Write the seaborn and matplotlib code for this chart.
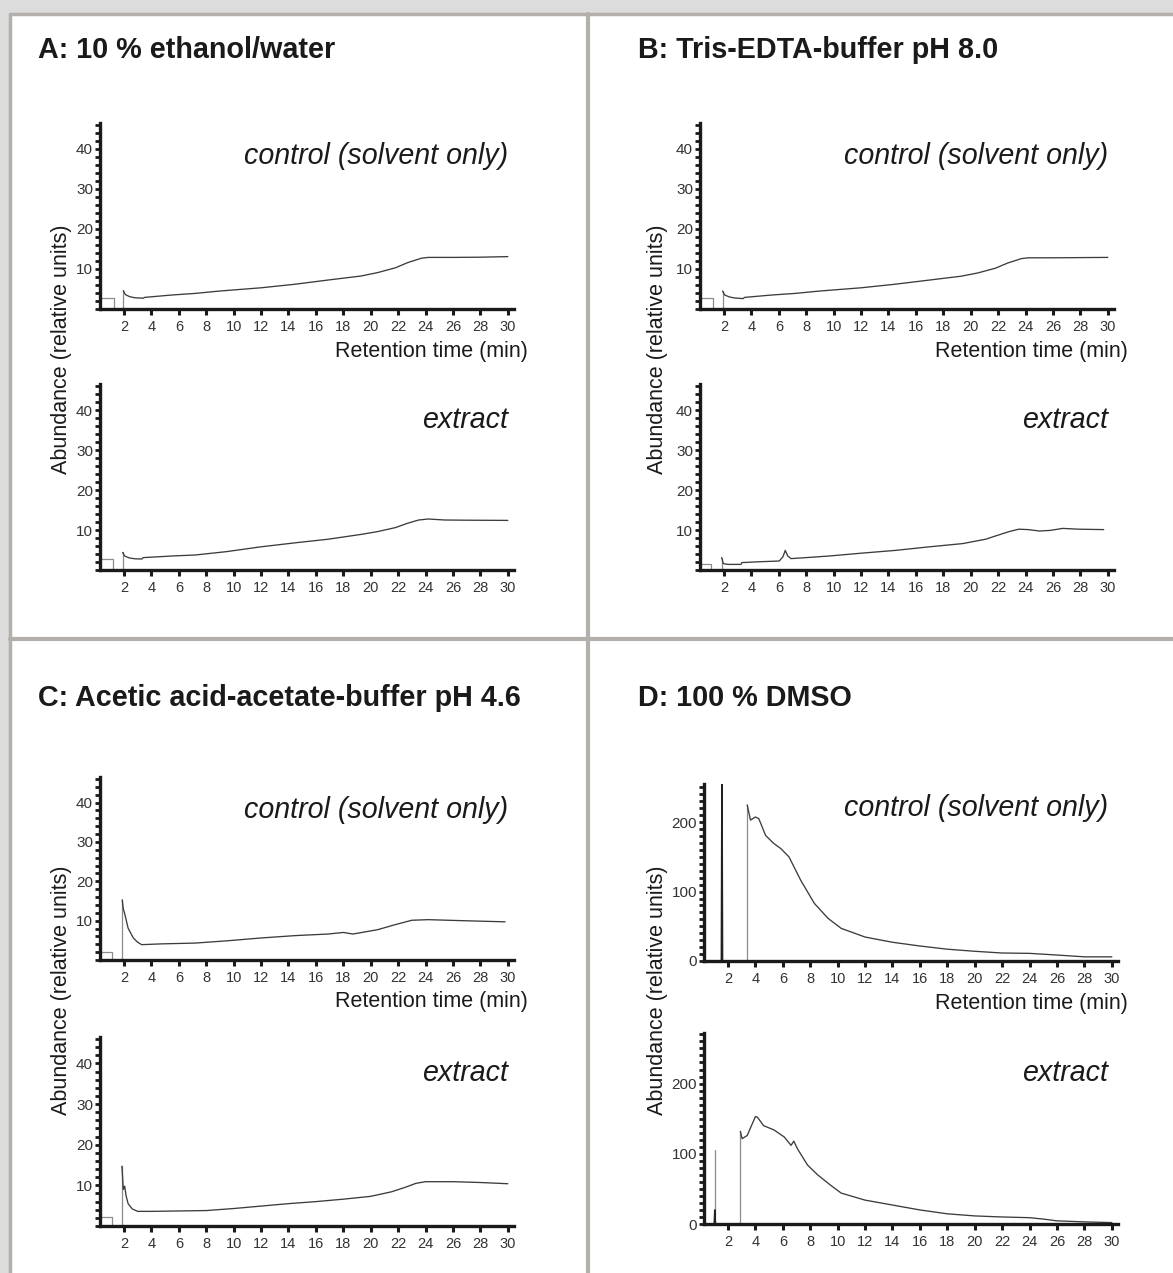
import numpy as np
import pandas as pd
import matplotlib
matplotlib.use("Agg")
import matplotlib.pyplot as plt
import seaborn as sns
from matplotlib.patches import Rectangle
from matplotlib.lines import Line2D
from matplotlib.ticker import MultipleLocator

sns.set_style("ticks")
plt.rcParams['font.family'] = ['Liberation Sans', 'DejaVu Sans']

# ---- data (time in min, abundance) ----
# injection box + spike drawn in light grey, main trace in dark grey
a_ctrl_pre_t = [0.25, 1.27, 1.27, None, 1.95, 1.95]
a_ctrl_pre_y = [2.7, 2.7, 0.0, None, 0.0, 4.6]
a_ctrl_t = [1.95, 2.1, 2.4, 2.8, 3.4, 3.5, 4.5, 5.5, 7.2, 9.0, 12.0, 14.5, 16.9, 19.3, 20.5, 21.8, 22.7, 23.7, 24.2, 26.0, 28.0, 30.0]
a_ctrl_y = [4.6, 3.6, 3.1, 2.8, 2.7, 2.9, 3.2, 3.5, 3.9, 4.5, 5.3, 6.2, 7.25, 8.25, 9.1, 10.3, 11.6, 12.7, 12.9, 12.9, 12.95, 13.1]

a_ext_pre_t = [0.25, 1.17, 1.17, None, 1.9, 1.9]
a_ext_pre_y = [2.7, 2.7, 0.0, None, 0.0, 4.4]
a_ext_t = [1.9, 2.05, 2.4, 2.8, 3.3, 3.4, 4.5, 5.5, 7.2, 9.5, 12.0, 14.5, 16.9, 19.3, 20.5, 21.8, 22.7, 23.5, 24.2, 25.4, 27.0, 30.0]
a_ext_y = [4.4, 3.5, 3.0, 2.8, 2.75, 3.1, 3.3, 3.5, 3.75, 4.6, 5.8, 6.8, 7.7, 8.9, 9.6, 10.6, 11.7, 12.5, 12.75, 12.5, 12.45, 12.4]

b_ctrl_pre_t = [0.25, 1.2, 1.2, None, 1.9, 1.9]
b_ctrl_pre_y = [2.7, 2.7, 0.0, None, 0.0, 4.5]
b_ctrl_t = [1.9, 2.05, 2.4, 2.8, 3.4, 3.5, 4.5, 5.5, 7.2, 9.0, 12.0, 14.5, 16.9, 19.3, 20.5, 21.8, 22.7, 23.7, 24.2, 26.0, 28.0, 30.0]
b_ctrl_y = [4.5, 3.5, 3.0, 2.75, 2.6, 2.9, 3.2, 3.5, 3.9, 4.5, 5.3, 6.2, 7.2, 8.2, 9.0, 10.2, 11.5, 12.6, 12.8, 12.8, 12.85, 12.9]

b_ext_pre_t = [0.25, 1.05, 1.05, None, 1.83, 1.83]
b_ext_pre_y = [1.4, 1.4, 0.0, None, 0.0, 3.1]
b_ext_t = [1.83, 1.95, 2.3, 3.24, 3.3, 4.5, 6.03, 6.3, 6.47, 6.65, 6.89, 8.0, 9.68, 12.0, 14.5, 17.0, 19.4, 21.1, 21.8, 22.8, 23.5, 24.2, 25.0, 25.8, 26.7, 27.9, 29.7]
b_ext_y = [3.1, 1.6, 1.4, 1.4, 1.85, 2.05, 2.25, 3.3, 4.9, 3.5, 2.85, 3.1, 3.5, 4.2, 4.9, 5.8, 6.6, 7.7, 8.5, 9.6, 10.2, 10.1, 9.75, 9.9, 10.4, 10.2, 10.1]

c_ctrl_pre_t = [0.25, 1.15, 1.15, None, 1.87, 1.87]
c_ctrl_pre_y = [2.0, 2.0, 0.0, None, 0.0, 15.3]
c_ctrl_t = [1.87, 1.95, 2.07, 2.3, 2.68, 3.0, 3.29, 4.75, 7.2, 9.6, 12.0, 14.5, 16.9, 18.0, 18.7, 20.5, 21.8, 23.0, 24.2, 26.6, 29.8]
c_ctrl_y = [15.3, 13.0, 11.5, 8.1, 5.6, 4.5, 3.9, 4.1, 4.3, 4.9, 5.6, 6.2, 6.6, 7.0, 6.6, 7.7, 9.0, 10.1, 10.25, 10.0, 9.7]

c_ext_pre_t = [0.25, 1.1, 1.1, None, 1.85, 1.85]
c_ext_pre_y = [2.3, 2.3, 0.0, None, 0.0, 14.7]
c_ext_t = [1.85, 1.95, 2.05, 2.15, 2.3, 2.6, 3.0, 4.0, 6.0, 8.0, 10.0, 12.0, 14.0, 16.0, 18.0, 20.0, 21.5, 22.5, 23.3, 24.0, 26.0, 28.0, 30.0]
c_ext_y = [14.7, 9.0, 9.8, 7.5, 5.5, 4.2, 3.6, 3.6, 3.7, 3.8, 4.3, 4.9, 5.5, 6.0, 6.6, 7.3, 8.4, 9.5, 10.5, 10.9, 10.9, 10.7, 10.4]

d_ctrl_pre_t = [3.4, 3.4]
d_ctrl_pre_y = [0.0, 225.0]
d_ctrl_spike_t = [1.52, 1.56, 1.56, 1.6]
d_ctrl_spike_y = [0.0, 260.0, 260.0, 0.0]
d_ctrl_t = [3.4, 3.64, 4.0, 4.25, 4.74, 5.3, 5.85, 6.45, 7.3, 8.3, 9.3, 10.26, 12.0, 14.0, 16.0, 18.0, 20.0, 22.0, 24.0, 26.0, 28.0, 30.0]
d_ctrl_y = [225.0, 203.0, 207.5, 205.0, 181.0, 170.0, 162.0, 150.0, 116.5, 83.0, 61.4, 47.0, 34.5, 27.0, 21.6, 17.0, 14.0, 11.5, 11.0, 8.6, 6.0, 6.0]

d_ext_pre_t = [1.04, 1.04, None, 2.9, 2.9]
d_ext_pre_y = [0.0, 105.0, None, 0.0, 132.0]
d_ext_spike_t = [1.0, 1.04, 1.08]
d_ext_spike_y = [0.0, 20.0, 0.0]
d_ext_t = [2.9, 3.03, 3.4, 4.0, 4.15, 4.6, 5.35, 6.1, 6.6, 6.8, 7.07, 7.8, 8.54, 9.5, 10.26, 12.0, 14.0, 16.0, 18.0, 20.0, 22.0, 24.0, 25.0, 26.0, 28.0, 30.0]
d_ext_y = [132.0, 121.5, 126.0, 153.0, 152.0, 140.0, 134.0, 124.0, 112.0, 118.0, 107.0, 84.0, 70.0, 55.0, 44.0, 34.0, 27.0, 20.0, 14.5, 11.5, 10.0, 9.0, 7.0, 4.5, 3.0, 2.0]

titles = ["A: 10 % ethanol/water", "B: Tris-EDTA-buffer pH 8.0",
          "C: Acetic acid-acetate-buffer pH 4.6", "D: 100 % DMSO"]
x_ticks = list(range(2, 31, 2))
small_yticks = [10, 20, 30, 40]
dmso_yticks = [0, 100, 200]

W, H = 1173, 1273
fig = plt.figure(figsize=(W / 100, H / 100), dpi=100)
fig.patch.set_facecolor("#dcdcdc")

def fx(px):
    return px / W

def fy(py):
    return 1 - py / H

# white card + grey frame and dividers
fig.add_artist(Rectangle((fx(12), 0), 1, fy(15), transform=fig.transFigure,
                         facecolor="white", edgecolor="none", zorder=-10))
grey = "#b3afab"
fig.add_artist(Line2D([fx(10), fx(10)], [0, fy(13.5)], transform=fig.transFigure, color=grey, lw=2.5))
fig.add_artist(Line2D([fx(10), 1], [fy(13.5), fy(13.5)], transform=fig.transFigure, color=grey, lw=2.5))
fig.add_artist(Line2D([fx(588), fx(588)], [0, fy(13.5)], transform=fig.transFigure, color=grey, lw=3))
fig.add_artist(Line2D([fx(10), 1], [fy(639), fy(639)], transform=fig.transFigure, color=grey, lw=3))

dark = "#3c3c3c"
light = "#8c8c8c"

def make_ax(left, top, bottom, ymax, yticks, minor):
    ax = fig.add_axes([fx(left), fy(bottom), fx(414), (bottom - top) / H])
    ax.set_facecolor("none")
    ax.set_xlim(0.25, 30.45)
    ax.set_ylim(0, ymax)
    ax.set_xticks(x_ticks)
    ax.set_yticks(yticks)
    ax.yaxis.set_minor_locator(MultipleLocator(minor))
    sns.despine(ax=ax)
    for s in ["left", "bottom"]:
        ax.spines[s].set_linewidth(2.4)
        ax.spines[s].set_color("#1a1a1a")
    ax.tick_params(axis="x", length=4, width=2.2, color="#1a1a1a", labelsize=10.5,
                   labelcolor="#333333", pad=4)
    ax.tick_params(axis="y", which="both", length=3.5, width=2.0, color="#1a1a1a",
                   labelsize=11, labelcolor="#333333", pad=1.5)
    ax.set_xlabel("")
    ax.set_ylabel("")
    return ax

def trace(ax, pre_t, pre_y, t, y, spike=None):
    # segments separated by None in the pre arrays
    seg_t, seg_y = [], []
    for tt, yy in zip(pre_t + [None], pre_y + [None]):
        if tt is None:
            if seg_t:
                sns.lineplot(x=seg_t, y=seg_y, ax=ax, color=light, lw=0.9,
                             sort=False, estimator=None)
            seg_t, seg_y = [], []
        else:
            seg_t.append(tt)
            seg_y.append(yy)
    if spike is not None:
        sns.lineplot(x=spike[0], y=spike[1], ax=ax, color="#222222", lw=1.2,
                     sort=False, estimator=None)
    sns.lineplot(x=t, y=y, ax=ax, color=dark, lw=0.95, sort=False, estimator=None)

panels = [
    # left, top-axes (top, bottom, ymax), bottom-axes (top, bottom, ymax), yticks, minor, traces
    (100, 123, 309, 46.5, 384, 570, 46.5, small_yticks, 2,
     (a_ctrl_pre_t, a_ctrl_pre_y, a_ctrl_t, a_ctrl_y, None),
     (a_ext_pre_t, a_ext_pre_y, a_ext_t, a_ext_y, None)),
    (700, 123, 309, 46.5, 384, 570, 46.5, small_yticks, 2,
     (b_ctrl_pre_t, b_ctrl_pre_y, b_ctrl_t, b_ctrl_y, None),
     (b_ext_pre_t, b_ext_pre_y, b_ext_t, b_ext_y, None)),
    (100, 777, 960, 46.5, 1037, 1226, 46.5, small_yticks, 2,
     (c_ctrl_pre_t, c_ctrl_pre_y, c_ctrl_t, c_ctrl_y, None),
     (c_ext_pre_t, c_ext_pre_y, c_ext_t, c_ext_y, None)),
    (704, 784, 961, 255, 1033, 1224, 272, dmso_yticks, 10,
     (d_ctrl_pre_t, d_ctrl_pre_y, d_ctrl_t, d_ctrl_y, (d_ctrl_spike_t, d_ctrl_spike_y)),
     (d_ext_pre_t, d_ext_pre_y, d_ext_t, d_ext_y, (d_ext_spike_t, d_ext_spike_y))),
]

title_pos = [(38, 50), (638, 50), (38, 698), (638, 698)]

for i, (left, t1, b1, ym1, t2, b2, ym2, yt, mn, tr1, tr2) in enumerate(panels):
    ax1 = make_ax(left, t1, b1, ym1, yt, mn)
    ax2 = make_ax(left, t2, b2, ym2, yt, mn)
    trace(ax1, *tr1)
    trace(ax2, *tr2)
    right_txt = 508 if left < 500 else 1108
    fig.text(fx(title_pos[i][0]), fy(title_pos[i][1]), titles[i], fontsize=20.7,
             fontweight="bold", color="#1a1a1a", ha="left", va="center")
    fig.text(fx(right_txt), fy(t1 + 33 if i < 3 else 808), "control (solvent only)",
             fontsize=20.6, fontstyle="italic", color="#1a1a1a", ha="right", va="center")
    fig.text(fx(right_txt), fy(t2 + 36 if i < 3 else 1073), "extract", fontsize=20.6,
             fontstyle="italic", color="#1a1a1a", ha="right", va="center")
    fig.text(fx(right_txt + 20), fy(b1 + 42), "Retention time (min)", fontsize=15.5,
             color="#1a1a1a", ha="right", va="center")
    ylab_x = 62 if left < 500 else 657
    ylab_y = 349 if i < 2 else 990
    fig.text(fx(ylab_x), fy(ylab_y), "Abundance (relative units)",
             fontsize=15.5, rotation=90, color="#1a1a1a", ha="center", va="center")

fig.savefig("out.png", dpi=100, facecolor=fig.get_facecolor())
